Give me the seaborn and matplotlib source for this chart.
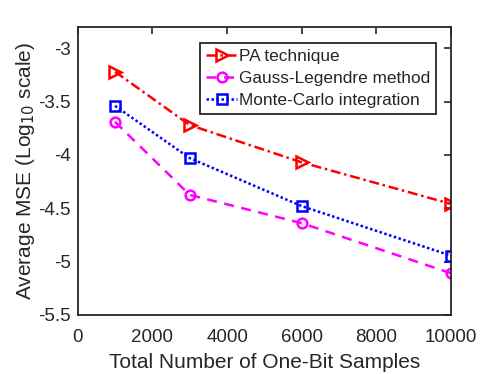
import seaborn as sns
import matplotlib.pyplot as plt
import pandas as pd

samples = [1000, 3000, 6000, 10000]
pa_mse = [-3.22, -3.72, -4.07, -4.46]
gauss_mse = [-3.69, -4.375, -4.64, -5.11]
mc_mse = [-3.54, -4.03, -4.48, -4.945]

series = ["PA technique", "Gauss-Legendre method", "Monte-Carlo integration"]

df = pd.DataFrame({
    "x": samples * 3,
    "y": pa_mse + gauss_mse + mc_mse,
    "method": [series[0]] * 4 + [series[1]] * 4 + [series[2]] * 4,
})

sns.set_style("white")
plt.rcParams['font.family'] = ['Liberation Sans', 'DejaVu Sans']

styles = {
    "PA technique": dict(color="red", ls=(0, (4, 1.5, 1, 1.5)), marker=">", ms=8),
    "Gauss-Legendre method": dict(color="magenta", ls=(0, (4, 3)), marker="o", ms=7),
    "Monte-Carlo integration": dict(color="blue", ls=(0, (1, 1)), marker="s", ms=6.5),
}

fig, ax = plt.subplots(figsize=(4.98, 3.74), dpi=100)
for name in series:
    st = styles[name]
    sns.lineplot(data=df[df["method"] == name], x="x", y="y", ax=ax,
                 color=st["color"], linestyle=st["ls"], linewidth=1.8,
                 marker=st["marker"], markersize=st["ms"], markerfacecolor="none",
                 markeredgecolor=st["color"], markeredgewidth=1.8,
                 label=name)

ax.set_xlim(0, 10000)
ax.set_ylim(-5.5, -2.8)
ax.set_xticks([0, 2000, 4000, 6000, 8000, 10000])
ax.set_yticks([-5.5, -5, -4.5, -4, -3.5, -3])
ax.set_yticklabels(["-5.5", "-5", "-4.5", "-4", "-3.5", "-3"])
ax.tick_params(direction="in", top=True, right=True, length=5, width=1.2,
               labelsize=13.5, colors="#262626")
ax.tick_params(axis="x", pad=10)
ax.tick_params(axis="y", pad=5)
for s in ax.spines.values():
    s.set_linewidth(1.3)
    s.set_color("#262626")

ax.set_xlabel("Total Number of One-Bit Samples", fontsize=15, color="#262626", labelpad=5)
ax.set_ylabel("Average MSE (Log$_{10}$ scale)", fontsize=15, color="#262626", labelpad=1)

leg = ax.legend(loc="upper right", bbox_to_anchor=(0.96, 0.945), fontsize=12.4,
                fancybox=False, framealpha=1, edgecolor="#262626",
                handlelength=1.8, handletextpad=0.1, borderpad=0.35,
                labelspacing=0.4, borderaxespad=0)
leg.get_frame().set_linewidth(1.3)

fig.subplots_adjust(left=0.156, right=0.906, top=0.928, bottom=0.158)
fig.savefig("out.png", dpi=100)
